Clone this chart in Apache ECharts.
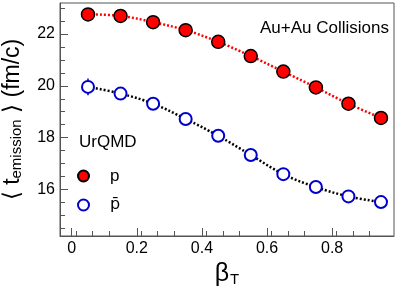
<!DOCTYPE html>
<html><head><meta charset="utf-8">
<script src="https://cdn.jsdelivr.net/npm/echarts@6/dist/echarts.min.js"></script>
<style>html,body{margin:0;padding:0;background:#fff}#c{width:399px;height:288px}</style>
</head><body><div id="c"></div>
<script>
const betaT = [0.05, 0.15, 0.25, 0.35, 0.45, 0.55, 0.65, 0.75, 0.85, 0.95];
const protonT = [22.76, 22.70, 22.46, 22.15, 21.70, 21.15, 20.55, 19.94, 19.31, 18.76];
const antiprotonT = [19.96, 19.70, 19.31, 18.72, 18.07, 17.33, 16.59, 16.09, 15.73, 15.51];
const antiprotonErr = [0.32, 0.05, 0.05, 0.05, 0.05, 0.05, 0.05, 0.05, 0.05, 0.05];
const xTicks = [0, 0.2, 0.4, 0.6, 0.8];
const yTicks = [16, 18, 20, 22];

const font = 'Liberation Sans, Arial, sans-serif';
const axisCol = '#555';
const chart = echarts.init(document.getElementById('c'), null, {renderer: 'canvas'});
chart.setOption({
  animation: false,
  grid: {left: 60, right: 5, top: 3, bottom: 52, show: true, borderColor: axisCol, borderWidth: 1,
    containLabel: false, outerBoundsMode: 'none'},
  xAxis: {
    type: 'value', min: -0.036, max: 0.99, interval: 0.2,
    name: '{b|β}{s|T}', nameLocation: 'middle', nameGap: 23,
    nameTextStyle: {rich: {
      b: {fontFamily: font, fontSize: 25, color: '#000', verticalAlign: 'bottom', lineHeight: 28},
      s: {fontFamily: font, fontSize: 15, color: '#000', verticalAlign: 'bottom', lineHeight: 28, padding: [10, 0, 0, 1]}
    }},
    axisLine: {onZero: false, lineStyle: {color: axisCol}},
    axisTick: {inside: true, length: 8, lineStyle: {color: axisCol}, customValues: xTicks},
    minorTick: {show: true, splitNumber: 4, length: 5, lineStyle: {color: axisCol}},
    axisLabel: {fontFamily: font, fontSize: 16, color: '#000', margin: 5, customValues: xTicks,
      formatter: v => (Math.abs(v) < 1e-9 ? '0' : String(Math.round(v * 10) / 10))},
    splitLine: {show: false}
  },
  yAxis: {
    type: 'value', min: 14.2, max: 23.2,
    name: '{a|⟨ t}{s|emission}{a| ⟩ (fm/c)}', nameLocation: 'middle', nameGap: 36, nameRotate: 90,
    nameTextStyle: {rich: {
      a: {fontFamily: font, fontSize: 23, color: '#000', verticalAlign: 'bottom', lineHeight: 30},
      s: {fontFamily: font, fontSize: 15, color: '#000', verticalAlign: 'bottom', lineHeight: 30, padding: [11, 0, 0, 0]}
    }},
    axisLine: {onZero: false, lineStyle: {color: axisCol}},
    axisTick: {inside: true, length: 8, lineStyle: {color: axisCol}, customValues: yTicks},
    minorTick: {show: true, splitNumber: 4, length: 5, lineStyle: {color: axisCol}},
    axisLabel: {fontFamily: font, fontSize: 16, color: '#000', margin: 5, customValues: yTicks},
    splitLine: {show: false}
  },
  legend: {
    orient: 'vertical', left: 77, top: 166, itemGap: 9, itemWidth: 11, itemHeight: 11,
    padding: 0,
    icon: 'circle',
    textStyle: {fontFamily: font, fontSize: 17, color: '#000', padding: [0, 0, 0, 16], lineHeight: 20},
    data: ['p', {name: 'p̄', textStyle: {fontFamily: 'DejaVu Sans', fontSize: 16, lineHeight: 20}}]
  },
  graphic: [
    {type: 'text', right: 10, top: 20, style: {text: 'Au+Au Collisions', font: '17px ' + font, fill: '#000'}},
    {type: 'text', left: 79, top: 134, style: {text: 'UrQMD', font: '17px ' + font, fill: '#000'}}
  ],
  series: [
    {
      name: 'p', type: 'line', smooth: 0.4,
      data: betaT.map((x, i) => [x, protonT[i]]),
      symbol: 'circle', symbolSize: 13,
      itemStyle: {color: '#ff0000', borderColor: '#000', borderWidth: 1.5},
      lineStyle: {color: '#ff0000', width: 2.5, type: [2, 2]}, z: 3
    },
    {
      name: 'p̄', type: 'line', smooth: 0.4,
      data: betaT.map((x, i) => [x, antiprotonT[i]]),
      symbol: 'circle', symbolSize: 12,
      itemStyle: {color: '#fff', borderColor: '#0000cc', borderWidth: 2},
      lineStyle: {color: '#000', width: 2.5, type: [2, 2]}, z: 3
    },
    {
      type: 'custom', z: 2, silent: true,
      data: betaT.map((x, i) => [x, antiprotonT[i] - antiprotonErr[i], antiprotonT[i] + antiprotonErr[i]]),
      renderItem: (params, api) => {
        const lo = api.coord([api.value(0), api.value(1)]);
        const hi = api.coord([api.value(0), api.value(2)]);
        return {type: 'line', shape: {x1: lo[0], y1: lo[1], x2: hi[0], y2: hi[1]},
          style: {stroke: '#0000cc', lineWidth: 1.5}};
      }
    }
  ]
});
</script></body></html>
